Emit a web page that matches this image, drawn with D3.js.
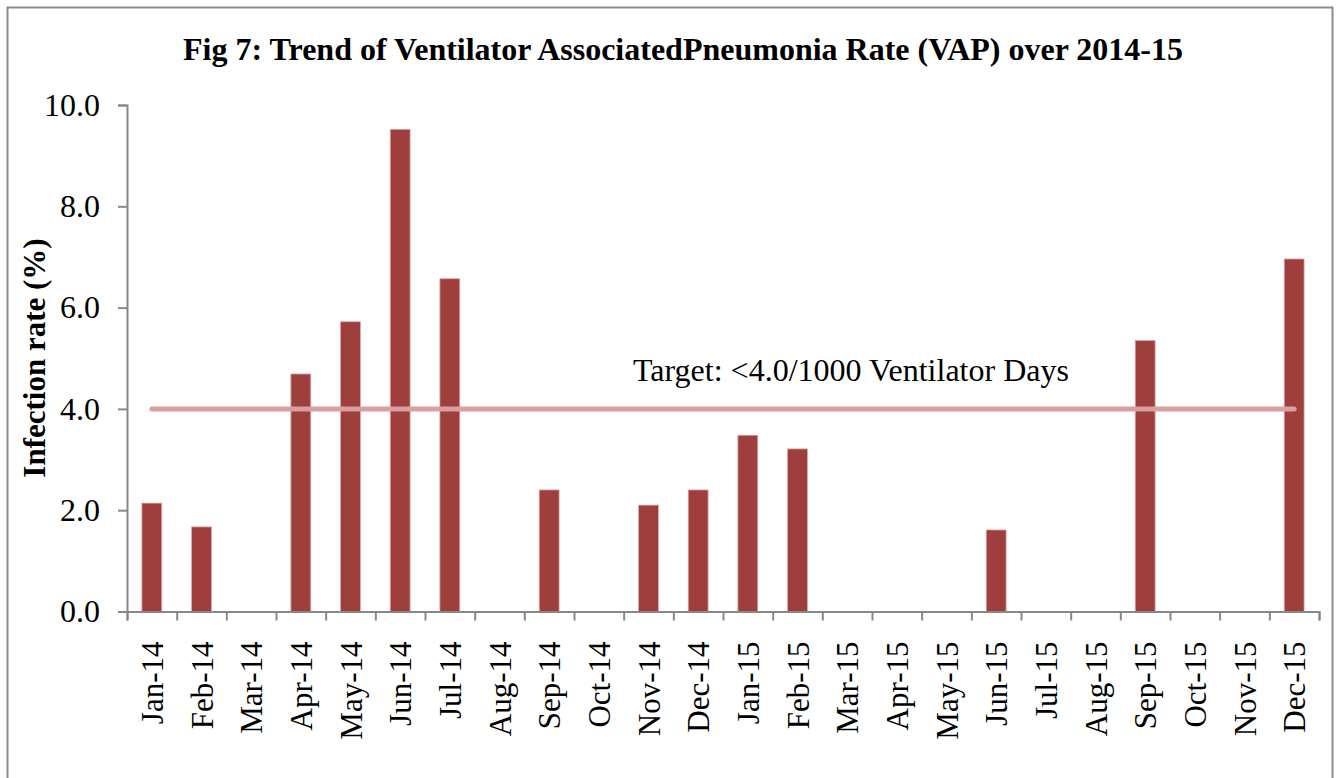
<!DOCTYPE html>
<html>
<head>
<meta charset="utf-8">
<script src="https://cdn.jsdelivr.net/npm/d3@7"></script>
<style>
  body { margin: 0; background: #fff; }
  svg { display: block; }
</style>
</head>
<body>
<svg id="chart"></svg>
<script>
const months = ["Jan-14","Feb-14","Mar-14","Apr-14","May-14","Jun-14","Jul-14","Aug-14","Sep-14","Oct-14","Nov-14","Dec-14",
  "Jan-15","Feb-15","Mar-15","Apr-15","May-15","Jun-15","Jul-15","Aug-15","Sep-15","Oct-15","Nov-15","Dec-15"];
const vapRate = [2.14, 1.67, 0, 4.69, 5.72, 9.52, 6.57, 0, 2.40, 0, 2.10, 2.40,
  3.48, 3.21, 0, 0, 0, 1.61, 0, 0, 5.35, 0, 0, 6.96];
const target = 4.0;
const yTicks = [0, 2, 4, 6, 8, 10];

const w = 1338, h = 778;
const margin = { top: 105, right: 19, bottom: 166.5, left: 127 };
const font = "'Liberation Serif', 'Times New Roman', serif";

const svg = d3.select("#chart").attr("width", w).attr("height", h);

// outer frame
svg.append("rect")
  .attr("x", 7.5).attr("y", 7.5)
  .attr("width", 1325).attr("height", 780)
  .attr("fill", "none")
  .attr("stroke", "#8c8c8c")
  .attr("stroke-width", 2);

svg.append("text")
  .attr("x", 683).attr("y", 60)
  .attr("text-anchor", "middle")
  .style("font-family", font)
  .style("font-weight", "bold")
  .style("font-size", "32px")
  .text("Fig 7: Trend of Ventilator AssociatedPneumonia Rate (VAP) over 2014-15");

const xScale = d3.scaleBand()
  .domain(months)
  .range([margin.left, w - margin.right])
  .paddingInner(0.6)
  .paddingOuter(0.3);

const yScale = d3.scaleLinear()
  .domain([0, 10])
  .range([h - margin.bottom, margin.top]);

// bars
svg.selectAll("rect.bar")
  .data(months)
  .enter()
  .append("rect")
  .attr("class", "bar")
  .attr("x", (d) => xScale(d))
  .attr("y", (d, i) => yScale(vapRate[i]))
  .attr("width", xScale.bandwidth())
  .attr("height", (d, i) => yScale(0) - yScale(vapRate[i]))
  .attr("fill", "#9e3f3d")
  .attr("stroke", "#dca8a6")
  .attr("stroke-width", 0.8)
  .style("display", (d, i) => vapRate[i] > 0 ? null : "none");

// target line
const center = (d) => xScale(d) + xScale.bandwidth() / 2;
svg.append("path")
  .datum(months)
  .attr("fill", "none")
  .attr("stroke", "#d9a09f")
  .attr("stroke-width", 5)
  .attr("stroke-linecap", "round")
  .attr("d", d3.line()
    .x((d) => center(d))
    .y(() => yScale(target)));

svg.append("text")
  .attr("x", 633).attr("y", 381)
  .style("font-family", font)
  .style("font-size", "32px")
  .text("Target: <4.0/1000 Ventilator Days");

// axes
const xAxisScale = d3.scaleLinear().domain([0, months.length]).range([margin.left, w - margin.right]);
const xAxis = svg.append("g")
  .attr("transform", `translate(0, ${yScale(0)})`)
  .call(d3.axisBottom(xAxisScale).tickValues(d3.range(months.length + 1)).tickSize(9).tickFormat(""));
xAxis.selectAll("line, path").attr("stroke", "#888").attr("stroke-width", 2);

svg.selectAll("text.xlab")
  .data(months)
  .enter()
  .append("text")
  .attr("class", "xlab")
  .attr("transform", (d) => `translate(${center(d) + 11}, ${yScale(0) + 30}) rotate(-90)`)
  .attr("text-anchor", "end")
  .style("font-family", font)
  .style("font-size", "31px")
  .text((d) => d);

const yAxis = svg.append("g")
  .attr("transform", `translate(${margin.left}, 0)`)
  .call(d3.axisLeft(yScale).tickValues(yTicks).tickSize(9).tickPadding(18)
    .tickFormat(d3.format(".1f")));
yAxis.selectAll("line, path").attr("stroke", "#888").attr("stroke-width", 2);
yAxis.selectAll("text")
  .attr("fill", "#000")
  .style("font-family", font)
  .style("font-size", "32px");

svg.append("text")
  .attr("transform", `translate(45, 358) rotate(-90)`)
  .attr("text-anchor", "middle")
  .style("font-family", font)
  .style("font-weight", "bold")
  .style("font-size", "31px")
  .text("Infection rate (%)");
</script>
</body>
</html>
